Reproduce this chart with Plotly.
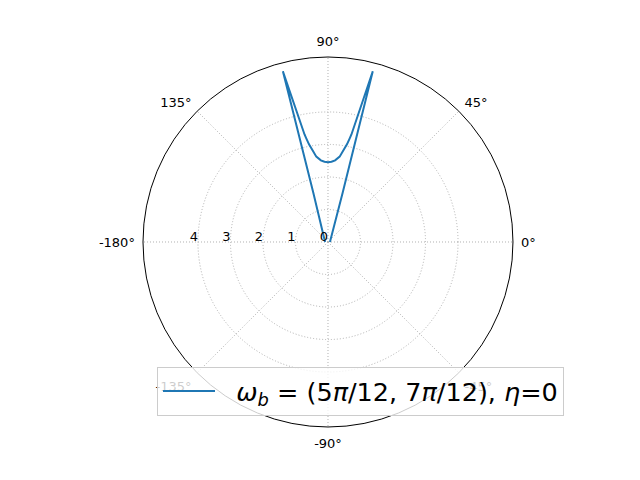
import plotly.graph_objects as go

# curve (angle in degrees, radius)
theta_deg = [180, 106.6, 104.8, 102.3, 101.8, 101.6, 101.0, 99.5, 97.8, 95.0, 92.5, 90.0,
             87.5, 85.0, 82.2, 80.5, 79.0, 78.4, 78.2, 77.7, 75.3, 73.4, 0]
radius = [0.09, 1.58, 5.43, 3.385, 3.25, 3.20, 3.06, 2.85, 2.65, 2.52, 2.47, 2.455,
          2.47, 2.52, 2.65, 2.85, 3.06, 3.20, 3.25, 3.385, 5.43, 1.58, 0.06]

angle_ticks = [0, 45, 90, 135, 180, 225, 270, 315]
angle_labels = ["0°", "45°", "90°", "135°", "-180°", "-135°", "-90°", "-45°"]
r_ticks = [0, 1, 2, 3, 4]
r_max = 5.69

legend_label = "&nbsp;&nbsp;<i>ω</i><sub><i>b</i></sub> = (5<i>π</i>/12, 7<i>π</i>/12), <i>η</i>=0"

fig = go.Figure()
fig.add_trace(go.Scatterpolar(
    r=radius, theta=theta_deg,
    mode="lines",
    name=legend_label,
    line=dict(color="#1f77b4", width=2),
))

# the page body adds an 8px margin, so the figure is 16px smaller than the window
fig.update_layout(
    width=624, height=464,
    margin=dict(l=0, r=0, t=0, b=0),
    paper_bgcolor="white",
    font=dict(family="DejaVu Sans", size=13, color="black"),
    showlegend=True,
    polar=dict(
        domain=dict(x=[0.2163, 0.8093], y=[0.0970, 0.8944]),
        bgcolor="white",
        angularaxis=dict(
            tickmode="array", tickvals=angle_ticks, ticktext=angle_labels,
            rotation=0, direction="counterclockwise",
            showline=True, linecolor="black", linewidth=1,
            gridcolor="#b0b0b0", griddash="1px,2px", gridwidth=0.8,
            ticks="outside", ticklen=5, tickcolor="rgba(0,0,0,0)",
        ),
        radialaxis=dict(
            range=[0, r_max], tickmode="array", tickvals=r_ticks,
            angle=180, tickangle=180, showline=False,
            gridcolor="#b0b0b0", griddash="1px,2px", gridwidth=0.8,
            ticks="",
        ),
    ),
    legend=dict(
        x=0.2388, y=0.2263, xanchor="left", yanchor="top",
        bgcolor="rgba(255,255,255,0.8)", bordercolor="#cccccc", borderwidth=1,
        font=dict(size=25.5), itemwidth=52,
    ),
)

fig.write_html("out.html")
